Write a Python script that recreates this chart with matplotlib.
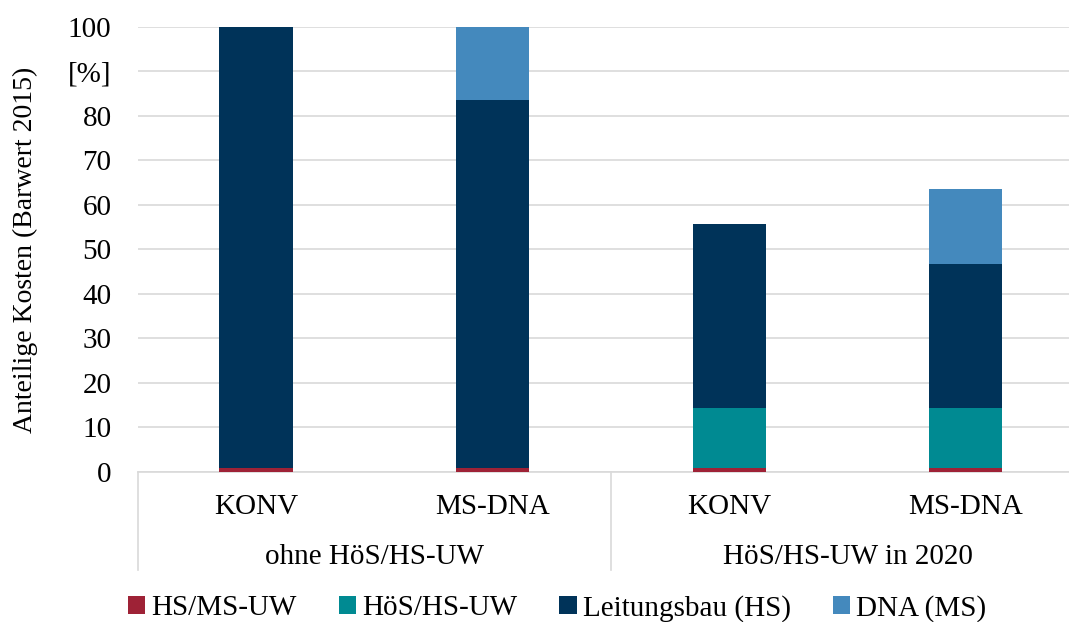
import numpy as np
import matplotlib.pyplot as plt
from matplotlib.patches import Patch
from matplotlib.lines import Line2D

plt.rcParams["font.family"] = ["Liberation Serif", "DejaVu Serif"]

categories = ["KONV", "MS-DNA", "KONV", "MS-DNA"]
groups = ["ohne HöS/HS-UW", "HöS/HS-UW in 2020"]

series_names = ["HS/MS-UW", "HöS/HS-UW", "Leitungsbau (HS)", "DNA (MS)"]
hs_ms_uw = [0.8, 0.8, 0.8, 0.8]
hoes_hs_uw = [0.0, 0.0, 13.6, 13.6]
leitungsbau = [99.2, 82.8, 41.4, 32.3]
dna = [0.0, 16.4, 0.0, 16.8]

colors = ["#9E2236", "#008A92", "#003359", "#4489BD"]
FS = 21

fig = plt.figure(figsize=(10.69, 6.22), dpi=100)
ax = fig.add_axes([0.129, 0.2412, 0.885, 0.7154])

x = np.arange(len(categories))
bottom = np.zeros(len(categories))
for vals, col in zip([hs_ms_uw, hoes_hs_uw, leitungsbau, dna], colors):
    ax.bar(x, vals, width=0.31, bottom=bottom, color=col, zorder=3)
    bottom += np.array(vals)

ax.set_xlim(-0.5, 3.5)
ax.set_ylim(0, 100)
yt = np.arange(0, 101, 10)
ax.set_yticks(yt)
ax.set_yticklabels([("[%]" if v == 90 else str(v)) for v in yt], fontsize=FS)
ax.tick_params(axis="y", length=0, pad=19)
ax.grid(axis="y", color="#D9D9D9", linewidth=1.2, zorder=0)

for s in ["top", "right", "left"]:
    ax.spines[s].set_visible(False)
ax.spines["bottom"].set_color("#D9D9D9")
ax.spines["bottom"].set_linewidth(1.2)

ax.set_xticks(x)
ax.set_xticklabels(categories, fontsize=FS)
ax.tick_params(axis="x", length=0, pad=16)

# second level of the category axis
for i, g in enumerate(groups):
    ax.text(2 * i + 0.5, -0.19, g, transform=ax.get_xaxis_transform(),
            ha="center", va="center", fontsize=FS)
for xs in [-0.5, 1.5, 3.5]:
    ax.add_line(Line2D([xs, xs], [0, -0.22], transform=ax.get_xaxis_transform(),
                       color="#D9D9D9", linewidth=1.2, clip_on=False))

ax.set_ylabel("Anteilige Kosten (Barwert 2015)", fontsize=20)
ax.yaxis.set_label_coords(-0.106, 0.5)

handles = [Patch(facecolor=c, edgecolor="none") for c in colors]
fig.legend(handles, series_names, loc="center", bbox_to_anchor=(0.521, 0.022),
           ncol=4, frameon=False, fontsize=FS, handlelength=0.6, handleheight=0.6,
           handletextpad=0.2, columnspacing=1.45)

fig.savefig("out.png", dpi=100)
